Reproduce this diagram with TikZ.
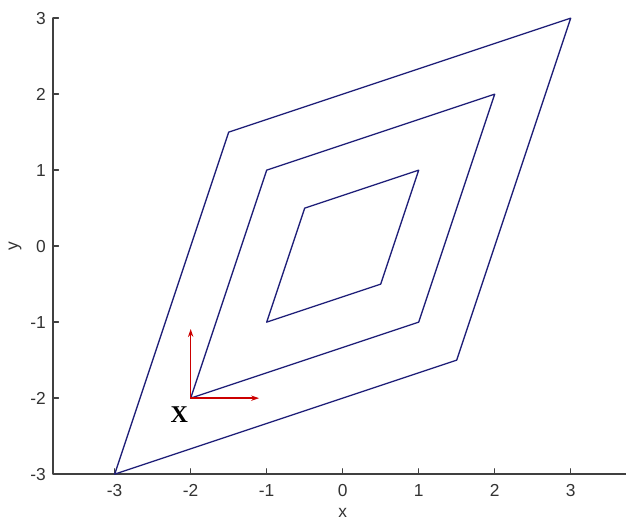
\documentclass[tikz,border=0pt]{standalone}
\usepackage{fontspec}
\setmainfont{Liberation Serif}
\setsansfont{Liberation Sans}
\usetikzlibrary{arrows.meta}

\begin{document}
\begin{tikzpicture}[line cap=round,line join=round,>=stealth,
  tick/.style={font=\sffamily\fontsize{6.5}{7}\selectfont,text=black!80,inner sep=0pt},
  axis/.style={black!75,line width=0.5pt},
  rhomb/.style={navy,line width=0.5pt},
  frame/.style={red!80!black,line width=0.5pt}]
  \definecolor{navy}{RGB}{30,30,120}

  % canvas
  \useasboundingbox (-4.509,-3.569) rectangle (3.728,3.239);

  % ---- axes ----
  \draw[axis] (-3.81,3) -- (-3.81,-3) -- (3.728,-3);
  % y ticks
  \draw[axis] (-3.81,3) -- ++(0.07,0) (-3.81,2) -- ++(0.07,0)
    (-3.81,1) -- ++(0.07,0) (-3.81,0) -- ++(0.07,0)
    (-3.81,-1) -- ++(0.07,0) (-3.81,-2) -- ++(0.07,0);
  % x ticks
  \draw[axis] (-3,-3) -- ++(0,0.07) (-2,-3) -- ++(0,0.07)
    (-1,-3) -- ++(0,0.07) (0,-3) -- ++(0,0.07) (1,-3) -- ++(0,0.07)
    (2,-3) -- ++(0,0.07) (3,-3) -- ++(0,0.07);

  % tick labels
  \node[tick,anchor=east] (y3) at (-3.9,3) {3};
  \node[tick,anchor=east] (y2) at (-3.9,2) {2};
  \node[tick,anchor=east] (y1) at (-3.9,1) {1};
  \node[tick,anchor=east] (y0) at (-3.9,0) {0};
  \node[tick,anchor=east] (ym1) at (-3.9,-1) {-1};
  \node[tick,anchor=east] (ym2) at (-3.9,-2) {-2};
  \node[tick,anchor=east] (ym3) at (-3.9,-3) {-3};
  \node[tick] (xm3) at (-3,-3.21) {-3};
  \node[tick] (xm2) at (-2,-3.21) {-2};
  \node[tick] (xm1) at (-1,-3.21) {-1};
  \node[tick] (x0) at (0,-3.21) {0};
  \node[tick] (x1) at (1,-3.21) {1};
  \node[tick] (x2) at (2,-3.21) {2};
  \node[tick] (x3) at (3,-3.21) {3};
  % axis labels
  \node[tick] (xlab) at (0,-3.51) {x};
  \node[tick,rotate=90] (ylab) at (-4.31,0) {y};

  % ---- parallelograms ----
  \draw[rhomb] (-3,-3) -- (-1.5,1.5) -- (3,3) -- (1.5,-1.5) -- cycle;
  \draw[rhomb] (-2,-2) -- (-1,1) -- (2,2) -- (1,-1) -- cycle;
  \draw[rhomb] (-1,-1) -- (-0.5,0.5) -- (1,1) -- (0.5,-0.5) -- cycle;

  % ---- frame at corner ----
  \coordinate (o) at (-2,-2);
  \coordinate (ex) at (-1.1,-2);
  \coordinate (ey) at (-2,-1.09);
  \draw[frame,-{Stealth[length=3pt,width=2pt]}] (o) -- (ex);
  \draw[frame,-{Stealth[length=3pt,width=2pt]}] (o) -- (ey);
  \node[font=\bfseries\fontsize{9}{10}\selectfont,inner sep=0pt] (xframe) at (-2.15,-2.22) {X};
\end{tikzpicture}
\end{document}
